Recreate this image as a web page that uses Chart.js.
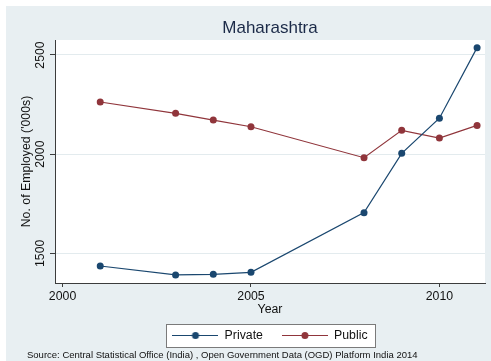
<!DOCTYPE html>
<html>
<head>
<meta charset="utf-8">
<title>Maharashtra</title>
<script src="https://cdn.jsdelivr.net/npm/chart.js@4/dist/chart.umd.min.js"></script>
<style>
  html, body { margin: 0; padding: 0; background: #fff; }
  #wrap { width: 491px; height: 361px; }
</style>
</head>
<body>
<div id="wrap"><canvas id="chart" width="491" height="361"></canvas></div>
<script>
/*
 * Maharashtra — employment in private vs public sector ('000s),
 * Stata-style line plot.
 */
var YEARS = [2001, 2003, 2004, 2005, 2008, 2009, 2010, 2011];
var PRIVATE = [1436, 1391, 1394, 1404, 1705, 2004, 2181, 2537];
var PUBLIC = [2263, 2206, 2172, 2138, 1982, 2120, 2081, 2145];
var X_TICKS = [2000, 2005, 2010];
var Y_TICKS = [1500, 2000, 2500];
var SOURCE = 'Source: Central Statistical Office (India) , Open Government Data (OGD) Platform India 2014';

var FONT = "'Liberation Sans', Arial, Helvetica, sans-serif";
var FS = 12.3; // axis / legend text size
var BG = '#e8eff2';
var AXIS = '#3c3c3c';
var GRID = '#e3ebee';
var TEXT = '#111111';
var NAVY = '#1a476f';
var MAROON = '#90353b';

function toPoints(values) {
  return values.map(function (v, i) { return { x: YEARS[i], y: v }; });
}

// line-with-dot key, like Stata's legend symbols
var symbolCache = {};
function legendSymbol(color) {
  if (symbolCache[color]) return symbolCache[color];
  var c = document.createElement('canvas');
  c.width = 46; c.height = 9;
  var g = c.getContext('2d');
  g.strokeStyle = color; g.lineWidth = 1.2;
  g.beginPath(); g.moveTo(0, 4.5); g.lineTo(46, 4.5); g.stroke();
  g.fillStyle = color;
  g.beginPath(); g.arc(23, 4.5, 3.5, 0, Math.PI * 2); g.fill();
  symbolCache[color] = c;
  return c;
}

var stataFrame = {
  id: 'stataFrame',
  beforeDraw: function (chart) {
    var ctx = chart.ctx, a = chart.chartArea, lg = chart.legend;
    ctx.save();
    ctx.fillStyle = '#ffffff';
    ctx.fillRect(0, 0, chart.width, chart.height);
    ctx.fillStyle = BG;
    ctx.fillRect(6, 6, chart.width - 6, chart.height - 6);
    ctx.fillStyle = '#ffffff';
    ctx.fillRect(a.left, a.top, a.right - a.left, a.bottom - a.top);

    // legend box
    var pad = lg.options.labels.padding;
    var content = lg.lineWidths[0] - pad;
    var cx = (lg.left + lg.right) / 2;
    var cy = lg.top + pad + FS / 2;
    var x0 = Math.round(cx - content / 2 - 6) + 0.5;
    var x1 = Math.round(cx + content / 2 + 7) + 0.5;
    var y0 = Math.round(cy - 12) + 0.5;
    var y1 = Math.round(cy + 11) + 0.5;
    ctx.fillRect(x0, y0, x1 - x0, y1 - y0);
    ctx.strokeStyle = '#7a7a7a';
    ctx.lineWidth = 1;
    ctx.strokeRect(x0, y0, x1 - x0, y1 - y0);
    ctx.restore();
  },
  afterDraw: function (chart) {
    var ctx = chart.ctx, y = chart.scales.y;
    ctx.save();
    ctx.fillStyle = TEXT;
    ctx.font = FS + 'px ' + FONT;
    ctx.textAlign = 'center';
    ctx.textBaseline = 'middle';
    y.ticks.forEach(function (t) {
      ctx.save();
      ctx.translate(41, y.getPixelForValue(t.value));
      ctx.rotate(-Math.PI / 2);
      ctx.fillText(String(t.value), 0, 0);
      ctx.restore();
    });
    ctx.font = '9.5px ' + FONT;
    ctx.textAlign = 'left';
    ctx.fillText(SOURCE, 27, 355);
    ctx.restore();
  }
};

function fixedTicks(list) {
  return function (scale) {
    scale.ticks = list.map(function (v) { return { value: v }; });
  };
}

new Chart(document.getElementById('chart'), {
  type: 'line',
  data: {
    datasets: [
      { label: 'Private', data: toPoints(PRIVATE), borderColor: NAVY, backgroundColor: NAVY,
        borderWidth: 1.2, pointRadius: 3.5, pointBorderWidth: 0, pointBackgroundColor: NAVY, tension: 0 },
      { label: 'Public', data: toPoints(PUBLIC), borderColor: MAROON, backgroundColor: MAROON,
        borderWidth: 1.2, pointRadius: 3.5, pointBorderWidth: 0, pointBackgroundColor: MAROON, tension: 0 }
    ]
  },
  options: {
    responsive: false,
    animation: false,
    devicePixelRatio: 1,
    layout: { padding: { top: 0, left: 0, right: 6, bottom: 9.35 } },
    plugins: {
      title: {
        display: true, text: 'Maharashtra', color: '#1b2a48', fullSize: false,
        font: { family: FONT, size: 17, weight: 'normal' },
        padding: { top: 17.8, bottom: 1.8 }
      },
      legend: {
        position: 'bottom', fullSize: false,
        labels: {
          usePointStyle: true, pointStyleWidth: 46, padding: 19, color: TEXT,
          font: { family: FONT, size: FS },
          generateLabels: function (chart) {
            return chart.data.datasets.map(function (ds, i) {
              return {
                text: ds.label, pointStyle: legendSymbol(ds.borderColor),
                fillStyle: ds.borderColor, strokeStyle: ds.borderColor, lineWidth: 0,
                fontColor: TEXT, hidden: false, datasetIndex: i
              };
            });
          }
        }
      },
      tooltip: { enabled: false }
    },
    scales: {
      x: {
        type: 'linear', min: 1999.8, max: 2011.21,
        afterBuildTicks: fixedTicks(X_TICKS),
        afterFit: function (s) { s.height = 27.35; },
        grid: { drawOnChartArea: false, tickLength: 4, tickColor: AXIS },
        border: { color: AXIS, width: 1 },
        ticks: { padding: 2, maxRotation: 0, color: TEXT, font: { family: FONT, size: FS },
          callback: function (v) { return String(v); } },
        title: { display: true, text: 'Year', color: TEXT, font: { family: FONT, size: FS },
          padding: { top: 0, bottom: -6.4 } }
      },
      y: {
        type: 'linear', min: 1350.2, max: 2575.6,
        afterBuildTicks: fixedTicks(Y_TICKS),
        afterFit: function (s) { s.width = 55; },
        grid: { color: GRID, tickLength: 5, tickColor: AXIS },
        border: { color: AXIS, width: 1 },
        ticks: { display: false },
        title: { display: true, text: "No. of Employed ('000s)", color: TEXT,
          font: { family: FONT, size: FS }, padding: { top: 19.6, bottom: 0 } }
      }
    }
  },
  plugins: [stataFrame]
});
</script>
</body>
</html>
